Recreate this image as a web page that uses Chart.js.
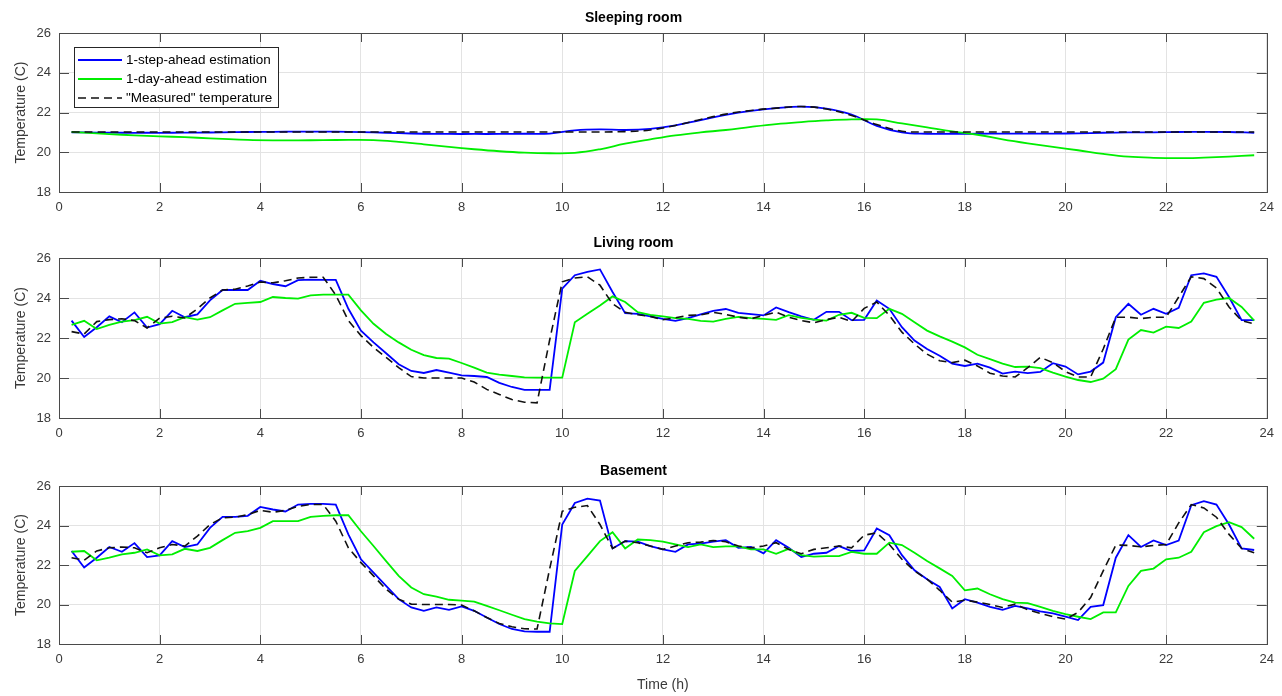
<!DOCTYPE html>
<html>
<head>
<meta charset="utf-8">
<title>Room temperatures</title>
<script src="https://cdn.jsdelivr.net/npm/chart.js@4.4.0/dist/chart.umd.min.js"></script>
<style>
  body { margin: 0; background: #fff; }
  canvas { position: absolute; left: 0; }
</style>
</head>
<body>
<canvas id="sleeping" width="1282" height="225" style="top:0"></canvas>
<canvas id="living" width="1282" height="230" style="top:225px"></canvas>
<canvas id="basement" width="1282" height="241" style="top:455px"></canvas>
<script>
// quarter-hour samples (h)
const stepTimes = [
  0.25, 0.5, 0.75, 1, 1.25, 1.5, 1.75, 2,
  2.25, 2.5, 2.75, 3, 3.25, 3.5, 3.75, 4,
  4.25, 4.5, 4.75, 5, 5.25, 5.5, 5.75, 6,
  6.25, 6.5, 6.75, 7, 7.25, 7.5, 7.75, 8,
  8.25, 8.5, 8.75, 9, 9.25, 9.5, 9.75, 10,
  10.25, 10.5, 10.75, 11, 11.25, 11.5, 11.75, 12,
  12.25, 12.5, 12.75, 13, 13.25, 13.5, 13.75, 14,
  14.25, 14.5, 14.75, 15, 15.25, 15.5, 15.75, 16,
  16.25, 16.5, 16.75, 17, 17.25, 17.5, 17.75, 18,
  18.25, 18.5, 18.75, 19, 19.25, 19.5, 19.75, 20,
  20.25, 20.5, 20.75, 21, 21.25, 21.5, 21.75, 22,
  22.25, 22.5, 22.75, 23, 23.25, 23.5, 23.75
];

// half-hour samples for the sleeping room (smooth curves)
const sleepTimes = [
  0.25, 0.75, 1.25, 1.75, 2.25, 2.75, 3.25, 3.75,
  4.25, 4.75, 5.25, 5.75, 6.25, 6.75, 7.25, 7.75,
  8.25, 8.75, 9.25, 9.75, 10.25, 10.75, 11.25, 11.75,
  12.25, 12.75, 13.25, 13.75, 14.25, 14.75, 15.25, 15.75,
  16.25, 16.75, 17.25, 17.75, 18.25, 18.75, 19.25, 19.75,
  20.25, 20.75, 21.25, 21.75, 22.25, 22.75, 23.25, 23.75
];

const sleepStep = [
  21.0, 20.99, 20.98, 20.98, 20.98, 20.99, 21.0, 21.02,
  21.03, 21.04, 21.04, 21.03, 21.0, 20.96, 20.93, 20.92,
  20.92, 20.92, 20.93, 20.94, 21.1, 21.15, 21.12, 21.18,
  21.35, 21.62, 21.88, 22.08, 22.22, 22.3, 22.2, 21.9,
  21.33, 21.0, 20.93, 20.93, 20.93, 20.94, 20.94, 20.94,
  20.95, 20.98, 21.0, 21.0, 21.02, 21.03, 21.02, 20.98
];
const sleepDay = [
  21.02, 20.95, 20.88, 20.82, 20.78, 20.73, 20.67, 20.62,
  20.6, 20.6, 20.61, 20.62, 20.61, 20.52, 20.4, 20.27,
  20.15, 20.05, 19.98, 19.95, 19.97, 20.15, 20.43, 20.65,
  20.85, 21.0, 21.12, 21.28, 21.42, 21.52, 21.6, 21.65,
  21.65, 21.45, 21.25, 21.05, 20.88, 20.65, 20.45, 20.27,
  20.1, 19.92, 19.78, 19.72, 19.7, 19.73, 19.78, 19.85
];
const sleepMeas = [
  21.02, 21.02, 21.02, 21.02, 21.02, 21.02, 21.02, 21.02,
  21.02, 21.02, 21.02, 21.02, 21.02, 21.02, 21.02, 21.02,
  21.02, 21.02, 21.02, 21.02, 21.02, 21.02, 21.04, 21.12,
  21.35, 21.65, 21.92, 22.1, 22.22, 22.3, 22.18, 21.85,
  21.4, 21.06, 21.02, 21.02, 21.02, 21.02, 21.02, 21.02,
  21.02, 21.02, 21.02, 21.02, 21.02, 21.02, 21.02, 21.02
];

const livingStep = [
  22.87, 22.05, 22.54, 23.08, 22.79, 23.28, 22.52, 22.69,
  23.36, 23.04, 23.18, 23.88, 24.4, 24.4, 24.4, 24.86,
  24.7, 24.59, 24.89, 24.92, 24.91, 24.91, 23.46, 22.37,
  21.78, 21.24, 20.69, 20.35, 20.25, 20.4, 20.27, 20.13,
  20.1, 20.05, 19.76, 19.55, 19.41, 19.41, 19.41, 24.47,
  25.14, 25.31, 25.43, 24.3, 23.24, 23.21, 23.08, 22.96,
  22.86, 22.99, 23.18, 23.36, 23.45, 23.26, 23.19, 23.13,
  23.53, 23.29, 23.08, 22.91, 23.31, 23.31, 22.89, 22.91,
  23.88, 23.46, 22.54, 21.87, 21.45, 21.11, 20.72, 20.6,
  20.72, 20.52, 20.22, 20.32, 20.24, 20.3, 20.74, 20.57,
  20.18, 20.32, 20.77, 23.04, 23.71, 23.16, 23.46, 23.21,
  23.51, 25.14, 25.23, 25.06, 24.05, 22.89, 22.89
];
const livingDay = [
  22.66, 22.86, 22.45, 22.66, 22.82, 22.89, 23.06, 22.72,
  22.79, 23.04, 22.92, 23.04, 23.38, 23.71, 23.76, 23.8,
  24.05, 24.0, 23.97, 24.13, 24.17, 24.17, 24.17, 23.38,
  22.71, 22.2, 21.78, 21.41, 21.14, 21.0, 20.97, 20.75,
  20.52, 20.27, 20.17, 20.1, 20.03, 20.02, 20.02, 20.02,
  22.79, 23.21, 23.63, 24.08, 23.8, 23.29, 23.16, 23.08,
  22.99, 22.96, 22.86, 22.82, 22.96, 23.06, 22.99, 22.96,
  22.91, 23.14, 23.01, 22.92, 22.87, 23.16, 23.26, 23.01,
  22.99, 23.46, 23.21, 22.79, 22.37, 22.08, 21.82, 21.53,
  21.16, 20.94, 20.72, 20.55, 20.57, 20.49, 20.27, 20.07,
  19.9, 19.8, 19.97, 20.44, 21.92, 22.4, 22.27, 22.57,
  22.5, 22.82, 23.76, 23.92, 24.0, 23.55, 22.87
];
const livingMeas = [
  22.32, 22.2, 22.82, 22.92, 22.96, 22.87, 22.5, 22.99,
  23.09, 23.0, 23.46, 24.0, 24.4, 24.44, 24.6, 24.8,
  24.76, 24.86, 25.0, 25.04, 25.04, 24.15, 22.87, 22.12,
  21.53, 21.03, 20.52, 20.07, 20.0, 20.0, 20.0, 20.0,
  19.8, 19.43, 19.18, 18.92, 18.79, 18.76, 21.9, 24.81,
  25.0, 25.06, 24.64, 23.71, 23.29, 23.16, 23.08, 22.91,
  23.01, 23.13, 23.16, 23.28, 23.18, 23.04, 22.96, 23.13,
  23.29, 23.04, 22.87, 22.76, 22.92, 23.04, 22.82, 23.48,
  23.8, 23.13, 22.29, 21.7, 21.19, 20.86, 20.77, 20.89,
  20.6, 20.24, 20.1, 20.05, 20.52, 21.03, 20.77, 20.32,
  20.05, 20.05, 21.45, 23.04, 23.04, 22.97, 23.04, 23.04,
  24.05, 25.06, 24.97, 24.5, 23.55, 22.87, 22.71
];

const basementStep = [
  22.71, 21.87, 22.37, 22.91, 22.67, 23.11, 22.4, 22.49,
  23.21, 22.91, 23.04, 23.88, 24.44, 24.44, 24.49, 24.94,
  24.81, 24.71, 25.06, 25.09, 25.09, 25.06, 23.55, 22.29,
  21.61, 20.94, 20.27, 19.85, 19.68, 19.85, 19.73, 19.9,
  19.68, 19.34, 19.01, 18.76, 18.64, 18.62, 18.62, 24.05,
  25.14, 25.36, 25.26, 22.84, 23.21, 23.18, 22.96, 22.79,
  22.67, 23.04, 23.08, 23.18, 23.26, 22.87, 22.91, 22.59,
  23.26, 22.87, 22.4, 22.57, 22.62, 22.96, 22.71, 22.74,
  23.85, 23.51, 22.5, 21.73, 21.28, 20.89, 19.8, 20.27,
  20.1, 19.88, 19.73, 19.93, 19.8, 19.65, 19.55, 19.39,
  19.21, 19.88, 19.97, 22.37, 23.51, 22.91, 23.24, 23.01,
  23.24, 25.03, 25.23, 25.06, 24.05, 22.84, 22.76
];
const basementDay = [
  22.67, 22.71, 22.24, 22.37, 22.54, 22.62, 22.79, 22.49,
  22.54, 22.82, 22.71, 22.87, 23.26, 23.63, 23.71, 23.88,
  24.22, 24.22, 24.22, 24.44, 24.49, 24.52, 24.52, 23.71,
  22.96, 22.2, 21.45, 20.86, 20.52, 20.4, 20.24, 20.2,
  20.15, 19.93, 19.71, 19.48, 19.26, 19.13, 19.04, 19.01,
  21.7, 22.45, 23.21, 23.66, 22.84, 23.29, 23.26, 23.18,
  23.04, 22.91, 23.04, 22.91, 22.94, 22.94, 22.79, 22.79,
  22.57, 22.82, 22.5, 22.42, 22.45, 22.45, 22.66, 22.57,
  22.57, 23.13, 23.01, 22.62, 22.2, 21.83, 21.45, 20.72,
  20.81, 20.52, 20.27, 20.1, 20.07, 19.88, 19.68, 19.51,
  19.38, 19.26, 19.6, 19.6, 20.94, 21.7, 21.82, 22.29,
  22.37, 22.67, 23.66, 23.97, 24.17, 23.92, 23.33
];
const basementMeas = [
  22.37, 22.24, 22.71, 22.87, 22.91, 22.87, 22.62, 22.87,
  23.04, 22.96, 23.46, 24.05, 24.39, 24.42, 24.55, 24.77,
  24.67, 24.77, 24.97, 25.06, 25.06, 24.22, 22.87, 22.12,
  21.45, 20.77, 20.27, 20.02, 20.0, 20.0, 20.0, 19.97,
  19.68, 19.34, 19.04, 18.87, 18.77, 18.76, 21.8, 24.72,
  24.92, 25.01, 24.05, 22.84, 23.21, 23.13, 22.96, 22.79,
  22.96, 23.13, 23.16, 23.24, 23.18, 22.96, 22.87, 22.96,
  23.13, 22.79, 22.57, 22.79, 22.87, 22.96, 22.87, 23.51,
  23.63, 23.04, 22.29, 21.7, 21.28, 20.72, 20.12, 20.22,
  20.12, 20.0, 19.85, 20.02, 19.73, 19.55, 19.38, 19.26,
  19.6, 20.35, 21.7, 23.01, 22.99, 22.92, 22.99, 23.04,
  24.13, 25.06, 24.89, 24.42, 23.55, 22.84, 22.62
];

const xTicks = [0, 2, 4, 6, 8, 10, 12, 14, 16, 18, 20, 22, 24];
const yTicks = [18, 20, 22, 24, 26];
const seriesLabels = ['1-step-ahead estimation', '1-day-ahead estimation', '"Measured" temperature'];

const FONT = '"Liberation Sans", Arial, Helvetica, sans-serif';
const TICK_COLOR = '#3a3a3a';
const GRID_COLOR = '#e3e3e3';
const BOX_COLOR = '#4a4a4a';

function toPoints(times, vals) {
  return times.map((t, i) => ({ x: t, y: vals[i] }));
}

// axes box with inward ticks on all four sides
const framePlugin = {
  id: 'frame',
  afterDatasetsDraw(chart) {
    const { ctx, chartArea: a, scales } = chart;
    ctx.save();
    ctx.strokeStyle = BOX_COLOR;
    ctx.lineWidth = 1;
    ctx.beginPath();
    xTicks.forEach(v => {
      const px = Math.round(scales.x.getPixelForValue(v)) + 0.5;
      ctx.moveTo(px, a.top); ctx.lineTo(px, a.top + 9);
      ctx.moveTo(px, a.bottom); ctx.lineTo(px, a.bottom - 9);
    });
    yTicks.forEach(v => {
      const py = Math.round(scales.y.getPixelForValue(v)) + 0.5;
      ctx.moveTo(a.left, py); ctx.lineTo(a.left + 10, py);
      ctx.moveTo(a.right, py); ctx.lineTo(a.right - 10, py);
    });
    ctx.stroke();
    ctx.strokeRect(Math.round(a.left) + 0.5, Math.round(a.top) + 0.5,
      Math.round(a.right - a.left), Math.round(a.bottom - a.top));
    ctx.restore();
  }
};

// boxed legend in the upper left corner of the plot
const boxLegendPlugin = {
  id: 'boxLegend',
  afterDraw(chart, args, opts) {
    if (!opts.show) return;
    const { ctx } = chart;
    const left = 74.5, top = 47.5, w = 204, h = 60;
    ctx.save();
    ctx.fillStyle = '#fff';
    ctx.fillRect(left, top, w, h);
    ctx.strokeStyle = '#262626';
    ctx.lineWidth = 1;
    ctx.strokeRect(left, top, w, h);
    ctx.font = '13.5px ' + FONT;
    ctx.textBaseline = 'middle';
    const rows = [60, 79, 98];
    chart.data.datasets.forEach((ds, i) => {
      const y = rows[i];
      ctx.strokeStyle = ds.borderColor;
      ctx.lineWidth = ds.borderWidth;
      ctx.setLineDash(ds.borderDash || []);
      ctx.beginPath();
      ctx.moveTo(78, y); ctx.lineTo(122, y);
      ctx.stroke();
      ctx.setLineDash([]);
      ctx.fillStyle = '#000';
      ctx.fillText(ds.label, 126, y);
    });
    ctx.restore();
  }
};

function makeChart(id, title, times, step, day, meas, cfg) {
  const smooth = cfg.smooth ? 0.4 : 0;
  return new Chart(document.getElementById(id), {
    type: 'line',
    data: {
      datasets: [
        { label: seriesLabels[0], data: toPoints(times, step), borderColor: '#0000ff', borderWidth: 1.8, tension: smooth, order: 3 },
        { label: seriesLabels[1], data: toPoints(times, day), borderColor: '#00ee00', borderWidth: 1.8, tension: smooth, order: 2 },
        { label: seriesLabels[2], data: toPoints(times, meas), borderColor: '#111', borderWidth: 1.6, borderDash: [8, 5], tension: smooth, order: 1 }
      ]
    },
    options: {
      responsive: false,
      animation: false,
      elements: { point: { radius: 0 } },
      layout: { padding: { left: 0, right: 15, top: 0, bottom: 0 } },
      plugins: {
        legend: { display: false },
        tooltip: { enabled: false },
        title: {
          display: true,
          text: title,
          color: '#000',
          font: { family: FONT, size: 14, weight: 'bold' },
          padding: { top: cfg.titleTop, bottom: 6.2 }
        },
        boxLegend: { show: !!cfg.legend }
      },
      scales: {
        x: {
          type: 'linear',
          min: 0,
          max: 24,
          afterBuildTicks: s => { s.ticks = xTicks.map(v => ({ value: v })); },
          ticks: { color: TICK_COLOR, font: { family: FONT, size: 13 }, padding: 8, maxRotation: 0 },
          grid: { color: GRID_COLOR, drawTicks: false },
          border: { display: false },
          title: {
            display: !!cfg.xTitle,
            text: cfg.xTitle || '',
            color: TICK_COLOR,
            font: { family: FONT, size: 14 },
            padding: { top: 0, bottom: 2 }
          },
          afterFit: s => { s.height = cfg.xHeight; }
        },
        y: {
          min: 18,
          max: 26,
          afterBuildTicks: s => { s.ticks = yTicks.map(v => ({ value: v })); },
          ticks: { color: TICK_COLOR, font: { family: FONT, size: 13 }, padding: 8 },
          grid: { color: GRID_COLOR, drawTicks: false },
          border: { display: false },
          title: {
            display: true,
            text: 'Temperature (C)',
            color: TICK_COLOR,
            font: { family: FONT, size: 14 },
            padding: { top: 12.6, bottom: 0 }
          },
          afterFit: s => { s.width = 59; }
        }
      }
    },
    plugins: [framePlugin, boxLegendPlugin]
  });
}

makeChart('sleeping', 'Sleeping room', sleepTimes, sleepStep, sleepDay, sleepMeas,
  { titleTop: 10, xHeight: 33, legend: true, smooth: true });
makeChart('living', 'Living room', stepTimes, livingStep, livingDay, livingMeas,
  { titleTop: 10, xHeight: 37 });
makeChart('basement', 'Basement', stepTimes, basementStep, basementDay, basementMeas,
  { titleTop: 8, xHeight: 52, xTitle: 'Time (h)' });
</script>
</body>
</html>
